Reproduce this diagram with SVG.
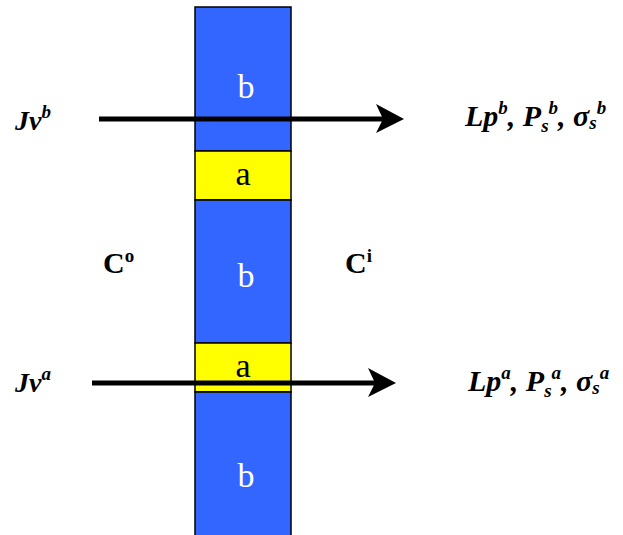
<svg xmlns="http://www.w3.org/2000/svg" width="623" height="535" viewBox="0 0 623 535">
<style>
.blue{fill:#3366FF;stroke:#000;stroke-width:1.5}
.yel{fill:#FFFF00;stroke:#000;stroke-width:1.5}
.lbl{font-family:"Liberation Serif","Times New Roman",serif;font-size:34px;text-anchor:middle}
.w{fill:#fff}
.k{fill:#000}
.bi{font-family:"Liberation Serif","Times New Roman",serif;font-weight:bold;font-style:italic;font-size:28px;fill:#000}
.big{font-size:30px}
.b{font-family:"Liberation Serif","Times New Roman",serif;font-weight:bold;font-size:30px;fill:#000}
.sup{font-size:19px}
.arr{stroke:#000;stroke-width:5;fill:none}
</style>
<rect width="623" height="535" fill="#fff"/>
<g id="membrane">
<g id="b1"><rect class="blue" x="195" y="7" width="96" height="144"/><text class="lbl w" x="246" y="98">b</text></g>
<g id="a1"><rect class="yel" x="195" y="151" width="96" height="49"/><text class="lbl k" x="243" y="185">a</text></g>
<g id="b2"><rect class="blue" x="195" y="200" width="96" height="143"/><text class="lbl w" x="246" y="287">b</text></g>
<g id="a2"><rect class="yel" x="195" y="343" width="96" height="49"/><text class="lbl k" x="243" y="377">a</text></g>
<g id="b3"><rect class="blue" x="195" y="392" width="96" height="145"/><text class="lbl w" x="246" y="487">b</text></g>
</g>
<g id="connectors">
<line class="arr" x1="99" y1="119" x2="384" y2="119"/>
<polygon points="404,119 376,104 383,119 376,133" fill="#000"/>
<line class="arr" x1="92" y1="383" x2="376" y2="383"/>
<polygon points="396,383 368,368 375,383 368,397" fill="#000"/>
</g>
<g id="Jvb"><text class="bi" x="15" y="130">Jv<tspan class="sup" dy="-12">b</tspan></text></g>
<g id="Jva"><text class="bi" x="15" y="392">Jv<tspan class="sup" dy="-12">a</tspan></text></g>
<g id="Co"><text class="b" x="103" y="273">C<tspan font-size="19" dy="-11">o</tspan></text></g>
<g id="Ci"><text class="b" x="345" y="273">C<tspan font-size="19" dy="-11">i</tspan></text></g>
<g id="outb"><text class="bi big" x="465" y="126">Lp<tspan class="sup" dy="-12">b</tspan><tspan dy="12">, P</tspan><tspan class="sup" dy="6">s</tspan><tspan class="sup" dy="-18">b</tspan><tspan dy="12">, σ</tspan><tspan class="sup" dy="3">s</tspan><tspan class="sup" dy="-15">b</tspan></text></g>
<g id="outa"><text class="bi big" x="468" y="391">Lp<tspan class="sup" dy="-12">a</tspan><tspan dy="12">, P</tspan><tspan class="sup" dy="6">s</tspan><tspan class="sup" dy="-18">a</tspan><tspan dy="12">, σ</tspan><tspan class="sup" dy="3">s</tspan><tspan class="sup" dy="-15">a</tspan></text></g>
</svg>
